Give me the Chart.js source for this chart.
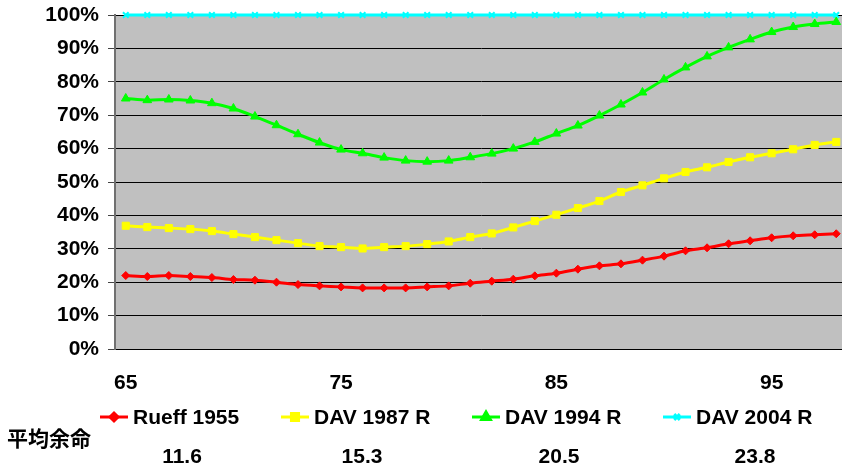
<!DOCTYPE html>
<html>
<head>
<meta charset="utf-8">
<script src="https://cdn.jsdelivr.net/npm/chart.js@4.4.1/dist/chart.umd.min.js"></script>
<style>
  html, body { margin: 0; padding: 0; background: #fff; }
  #wrap { width: 842px; height: 466px; overflow: hidden; position: relative; }
  #c { display: block; }
</style>
</head>
<body>
<div id="wrap"><canvas id="c" width="853" height="466"></canvas></div>
<script>
// Ages (categories)
const ages = [65, 66, 67, 68, 69, 70, 71, 72, 73, 74, 75, 76, 77, 78, 79, 80, 81,
              82, 83, 84, 85, 86, 87, 88, 89, 90, 91, 92, 93, 94, 95, 96, 97, 98];

// Ratio per mortality table, in percent
const rueff1955 = [22.0, 21.7, 22.0, 21.7, 21.4, 20.8, 20.6, 20.0, 19.3, 18.9, 18.6, 18.3,
                   18.3, 18.3, 18.6, 18.9, 19.7, 20.3, 20.9, 21.9, 22.7, 23.9, 24.9, 25.5,
                   26.6, 27.8, 29.4, 30.3, 31.5, 32.4, 33.3, 33.9, 34.2, 34.5];
const dav1987 = [36.9, 36.5, 36.2, 35.9, 35.3, 34.4, 33.5, 32.6, 31.7, 30.8, 30.5, 30.1,
                 30.5, 30.8, 31.4, 32.2, 33.5, 34.6, 36.4, 38.3, 40.2, 42.2, 44.3, 47.0,
                 49.0, 51.1, 53.0, 54.4, 56.0, 57.4, 58.6, 59.8, 61.1, 62.0];
const dav1994 = [75.0, 74.5, 74.7, 74.4, 73.6, 72.0, 69.6, 67.0, 64.3, 61.8, 59.7, 58.6,
                 57.3, 56.4, 56.1, 56.4, 57.4, 58.5, 60.0, 62.0, 64.5, 66.9, 69.9, 73.2,
                 76.8, 80.7, 84.3, 87.6, 90.3, 92.7, 94.9, 96.4, 97.3, 97.9];
const dav2004 = [100, 100, 100, 100, 100, 100, 100, 100, 100, 100, 100, 100,
                 100, 100, 100, 100, 100, 100, 100, 100, 100, 100, 100, 100,
                 100, 100, 100, 100, 100, 100, 100, 100, 100, 100];

// Ages that get an axis label
const labelledAges = [65, 75, 85, 95];

// Remaining life expectancy row
const lifeTitle = '平均余命';
const lifeValues = ['11.6', '15.3', '20.5', '23.8'];

const FONT = '"Liberation Sans", Arial, "Noto Sans CJK JP", sans-serif';
const FONT_SIZE = 21;

const series = [
  { label: 'Rueff 1955', data: rueff1955, color: '#FF0000', style: 'rectRot', r: 4 },
  { label: 'DAV 1987 R', data: dav1987, color: '#FFFF00', style: 'rect', r: 5 },
  { label: 'DAV 1994 R', data: dav1994, color: '#00FF00', style: 'triangle', r: 5 },
  { label: 'DAV 2004 R', data: dav2004, color: '#00FFFF', style: 'crossRot', r: 4 }
];

// Draws the custom legend and the life-expectancy row below the axis
const footerPlugin = {
  id: 'footer',
  afterDraw(chart, args, opts) {
    const ctx = chart.ctx;
    ctx.save();
    ctx.font = 'bold ' + FONT_SIZE + 'px ' + FONT;
    ctx.fillStyle = '#000';
    ctx.textBaseline = 'middle';
    ctx.textAlign = 'left';
    chart.data.datasets.forEach((ds, i) => {
      const x0 = opts.legendX[i];
      const y = opts.legendY;
      ctx.strokeStyle = ds.borderColor;
      ctx.lineWidth = 3;
      ctx.beginPath();
      ctx.moveTo(x0, y);
      ctx.lineTo(x0 + 28, y);
      ctx.stroke();
      ctx.fillStyle = ds.borderColor;
      Chart.helpers.drawPoint(ctx, {
        pointStyle: ds.pointStyle, radius: ds.pointRadius, borderWidth: 2, rotation: 0
      }, x0 + 14, y);
      ctx.fillStyle = '#000';
      ctx.fillText(ds.label, x0 + 33, y + 1);
    });
    ctx.fillText(lifeTitle, opts.titleX, opts.titleY);
    ctx.textAlign = 'center';
    lifeValues.forEach((v, i) => ctx.fillText(v, opts.valueX[i], opts.valueY));
    ctx.restore();
  }
};

new Chart(document.getElementById('c'), {
  type: 'line',
  data: {
    labels: ages,
    datasets: series.map(s => ({
      label: s.label,
      data: s.data,
      borderColor: s.color,
      backgroundColor: s.color,
      pointBackgroundColor: s.color,
      pointBorderColor: s.color,
      pointStyle: s.style,
      pointRadius: s.r,
      pointHoverRadius: s.r,
      pointBorderWidth: s.style === 'crossRot' ? 2 : 1,
      borderWidth: 3,
      tension: 0.3,
      fill: false,
      clip: false
    }))
  },
  options: {
    responsive: false,
    animation: false,
    events: [],
    layout: { padding: { top: 15, right: 2, left: 0, bottom: 0 } },
    plugins: {
      legend: { display: false },
      tooltip: { enabled: false },
      footer: {
        legendX: [100, 281, 472, 663],
        legendY: 417,
        titleX: 7,
        titleY: 440,
        valueX: [182, 362, 559, 755],
        valueY: 457
      }
    },
    scales: {
      x: {
        type: 'category',
        offset: true,
        grid: { display: false, drawTicks: false },
        border: { display: true, color: '#000', width: 1 },
        ticks: {
          autoSkip: false,
          maxRotation: 0,
          padding: 22,
          color: '#000',
          font: { family: FONT, size: FONT_SIZE, weight: 'bold' },
          callback: function (v) {
            const a = this.getLabelForValue(v);
            return labelledAges.includes(Number(a)) ? String(a) : '';
          }
        },
        afterFit(scale) {
          scale.height = 117;
          scale.paddingLeft = 0;
          scale.paddingRight = 0;
        }
      },
      y: {
        min: 0,
        max: 100,
        grid: {
          color: '#000',
          lineWidth: 1,
          tickLength: 7,
          tickColor: '#444'
        },
        border: { display: true, color: '#707070', width: 2 },
        ticks: {
          stepSize: 10,
          padding: 9,
          color: '#000',
          font: { family: FONT, size: FONT_SIZE, weight: 'bold' },
          callback: v => v + '%'
        },
        afterFit(scale) {
          scale.width = 115;
          scale.paddingTop = 0;
          scale.paddingBottom = 0;
        }
      }
    }
  },
  plugins: [
    {
      id: 'plotBackground',
      beforeDraw(chart) {
        const { ctx, chartArea: a } = chart;
        ctx.save();
        ctx.fillStyle = '#C0C0C0';
        ctx.fillRect(a.left, a.top, a.right - a.left, a.bottom - a.top);
        ctx.restore();
      }
    },
    footerPlugin
  ]
});
</script>
</body>
</html>
